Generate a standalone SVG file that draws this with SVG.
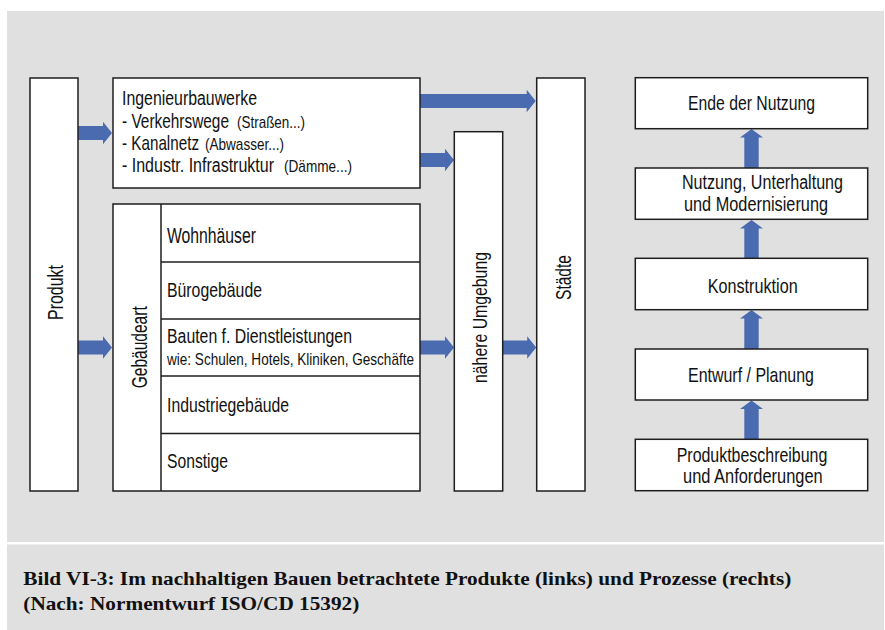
<svg xmlns="http://www.w3.org/2000/svg" width="885" height="630" viewBox="0 0 885 630">
<style>
.box{fill:#fff;stroke:#1e1e1e;stroke-width:1.5}
.ln{stroke:#1e1e1e;stroke-width:1.5;fill:none}
.arr{fill:#4a6bb0}
.t{font-family:"Liberation Sans Narrow","Liberation Sans",Arial,sans-serif;fill:#111;font-size:20px}
.m{font-size:21px}
.l{font-size:22px}
.s{font-size:16px}
.w{font-size:17px}
.cap{font-family:"Liberation Serif","Times New Roman",serif;font-weight:bold;font-size:19.5px;fill:#111}
</style>
<rect x="0" y="0" width="885" height="630" fill="#fff"/>
<rect x="7" y="11" width="877" height="531" fill="#e0e0e0"/>
<rect x="7" y="544.5" width="877" height="85.5" fill="#e0e0e0"/>

<g id="connectors">
<polygon class="arr" points="78,126 103,126 103,121.7 112,133 103,144.3 103,140 78,140"/>
<polygon class="arr" points="78,340.5 103,340.5 103,336.2 112,347.5 103,358.8 103,354.5 78,354.5"/>
<polygon class="arr" points="420,94 526.7,94 526.7,89.7 535.7,101 526.7,112.3 526.7,108 420,108"/>
<polygon class="arr" points="420,153 445,153 445,148.7 454,160 445,171.3 445,167 420,167"/>
<polygon class="arr" points="420,340.5 445,340.5 445,336.2 454,347.5 445,358.8 445,354.5 420,354.5"/>
<polygon class="arr" points="502.7,340.5 527.2,340.5 527.2,336.2 536.2,347.5 527.2,358.8 527.2,354.5 502.7,354.5"/>
<polygon class="arr" points="744.3,168 744.3,137.5 740,137.5 751.5,129 763,137.5 758.7,137.5 758.7,168"/>
<polygon class="arr" points="744.3,258.3 744.3,228.5 740,228.5 751.5,220 763,228.5 758.7,228.5 758.7,258.3"/>
<polygon class="arr" points="744.3,349 744.3,318.5 740,318.5 751.5,310 763,318.5 758.7,318.5 758.7,349"/>
<polygon class="arr" points="744.3,439.3 744.3,409 740,409 751.5,400.5 763,409 758.7,409 758.7,439.3"/>
</g>

<g id="produkt">
<rect class="box" x="30" y="78" width="48" height="413"/>
<text class="t l" transform="translate(63.3,320) rotate(-90)" textLength="55" lengthAdjust="spacingAndGlyphs">Produkt</text>
</g>

<g id="ingenieurbauwerke">
<rect class="box" x="113" y="78" width="307" height="110"/>
<text class="t" x="122" y="105" textLength="135" lengthAdjust="spacingAndGlyphs">Ingenieurbauwerke</text>
<text class="t" transform="translate(122,127.5) scale(0.764,1)" textLength="140" lengthAdjust="spacingAndGlyphs">- Verkehrswege</text>
<text class="t s" transform="translate(237,127.5) scale(0.84,1)" textLength="81" lengthAdjust="spacingAndGlyphs">(Straßen...)</text>
<text class="t" transform="translate(122,150) scale(0.761,1)" textLength="101.2" lengthAdjust="spacingAndGlyphs">- Kanalnetz</text>
<text class="t s" transform="translate(205,150) scale(0.839,1)" textLength="94.2" lengthAdjust="spacingAndGlyphs">(Abwasser...)</text>
<text class="t" transform="translate(122,172.3) scale(0.795,1)" textLength="191.2" lengthAdjust="spacingAndGlyphs">- Industr. Infrastruktur</text>
<text class="t s" transform="translate(284,172.3) scale(0.85,1)" textLength="80" lengthAdjust="spacingAndGlyphs">(Dämme...)</text>
</g>

<g id="gebaeudeart">
<rect class="box" x="113" y="204" width="307" height="287"/>
<line class="ln" x1="161" y1="204" x2="161" y2="491"/>
<line class="ln" x1="161" y1="262" x2="420" y2="262"/>
<line class="ln" x1="161" y1="319" x2="420" y2="319"/>
<line class="ln" x1="161" y1="376" x2="420" y2="376"/>
<line class="ln" x1="161" y1="433.5" x2="420" y2="433.5"/>
<text class="t l" transform="translate(146.7,388.3) rotate(-90)" textLength="82" lengthAdjust="spacingAndGlyphs">Gebäudeart</text>
<text class="t l" x="167" y="242.7" textLength="89" lengthAdjust="spacingAndGlyphs">Wohnhäuser</text>
<text class="t m" x="167" y="296.7" textLength="95" lengthAdjust="spacingAndGlyphs">Bürogebäude</text>
<text class="t" x="167" y="342.7" textLength="185" lengthAdjust="spacingAndGlyphs">Bauten f. Dienstleistungen</text>
<text class="t w" x="167" y="365" textLength="247" lengthAdjust="spacingAndGlyphs">wie: Schulen, Hotels, Kliniken, Geschäfte</text>
<text class="t m" x="167" y="411.7" textLength="122" lengthAdjust="spacingAndGlyphs">Industriegebäude</text>
<text class="t m" x="167" y="468" textLength="61" lengthAdjust="spacingAndGlyphs">Sonstige</text>
</g>

<g id="naehere-umgebung">
<rect class="box" x="454.3" y="131.7" width="48.4" height="359.3"/>
<text class="t m" transform="translate(487.3,383) rotate(-90)" textLength="131" lengthAdjust="spacingAndGlyphs">nähere Umgebung</text>
</g>

<g id="staedte">
<rect class="box" x="536.7" y="78" width="48.3" height="413"/>
<text class="t l" transform="translate(570.7,300) rotate(-90)" textLength="45" lengthAdjust="spacingAndGlyphs">Städte</text>
</g>

<g id="ende-der-nutzung">
<rect class="box" x="635.3" y="77.7" width="232.4" height="51"/>
<text class="t m" x="688" y="110" textLength="127" lengthAdjust="spacingAndGlyphs">Ende der Nutzung</text>
</g>

<g id="nutzung">
<rect class="box" x="635.3" y="168" width="232.4" height="51.3"/>
<text class="t" x="682" y="189" textLength="161" lengthAdjust="spacingAndGlyphs">Nutzung, Unterhaltung</text>
<text class="t" x="684" y="210.7" textLength="144" lengthAdjust="spacingAndGlyphs">und Modernisierung</text>
</g>

<g id="konstruktion">
<rect class="box" x="635.3" y="258.3" width="232.4" height="51.4"/>
<text class="t m" x="707.7" y="292.7" textLength="90" lengthAdjust="spacingAndGlyphs">Konstruktion</text>
</g>

<g id="entwurf">
<rect class="box" x="635.3" y="349" width="232.4" height="51"/>
<text class="t m" x="688" y="382.3" textLength="126" lengthAdjust="spacingAndGlyphs">Entwurf / Planung</text>
</g>

<g id="produktbeschreibung">
<rect class="box" x="635.3" y="439.3" width="232.4" height="51.4"/>
<text class="t" x="676.7" y="461.7" textLength="150.6" lengthAdjust="spacingAndGlyphs">Produktbeschreibung</text>
<text class="t" x="683" y="482.7" textLength="139.7" lengthAdjust="spacingAndGlyphs">und Anforderungen</text>
</g>

<g id="caption">
<text class="cap" x="23.3" y="585" textLength="768" lengthAdjust="spacingAndGlyphs">Bild VI-3: Im nachhaltigen Bauen betrachtete Produkte (links) und Prozesse (rechts)</text>
<text class="cap" x="23.3" y="610" textLength="336" lengthAdjust="spacingAndGlyphs">(Nach: Normentwurf ISO/CD 15392)</text>
</g>
</svg>
